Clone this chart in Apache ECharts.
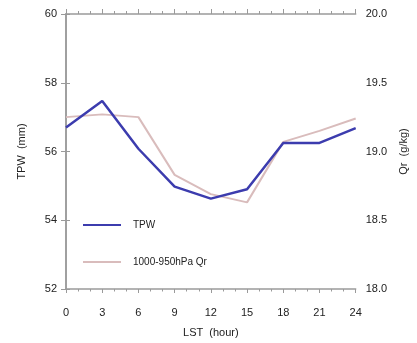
<!DOCTYPE html>
<html>
<head>
<meta charset="utf-8">
<script src="https://cdn.jsdelivr.net/npm/echarts@6/dist/echarts.min.js"></script>
<style>
  html, body { margin: 0; padding: 0; background: #ffffff; }
  #chart { width: 417px; height: 343px; }
</style>
</head>
<body>
<div id="chart"></div>
<script>
// Diurnal cycle: local solar time (hours)
const hours = [0, 3, 6, 9, 12, 15, 18, 21, 24];
// Total precipitable water (mm), left axis
const tpw = [56.70, 57.47, 56.08, 54.98, 54.63, 54.90, 56.25, 56.25, 56.68];
// 1000-950 hPa mixing ratio (g/kg), right axis
const qr = [19.25, 19.27, 19.25, 18.83, 18.69, 18.63, 19.07, 19.15, 19.24];

const FONT = 'Liberation Sans';
const AXIS_COLOR = '#9a9a9a';
const TEXT_COLOR = '#222';

const chart = echarts.init(document.getElementById('chart'), null, { renderer: 'canvas' });

chart.setOption({
  backgroundColor: '#ffffff',
  animation: false,
  textStyle: { fontFamily: FONT },
  grid: { left: 66, right: 56, top: 14, bottom: 53, containLabel: false },
  legend: {
    orient: 'vertical',
    left: 78,
    top: 215,
    itemGap: 27,
    itemWidth: 38,
    itemHeight: 2,
    icon: 'rect',
    textStyle: { fontFamily: FONT, fontSize: 10, color: TEXT_COLOR, padding: [0, 0, 0, 7] },
    data: ['TPW', '1000-950hPa Qr']
  },
  xAxis: [
    {
      type: 'value', position: 'bottom', min: 0, max: 24, interval: 3,
      name: 'LST  (hour)', nameLocation: 'middle', nameGap: 38,
      nameTextStyle: { fontFamily: FONT, fontSize: 11, color: TEXT_COLOR },
      axisLine: { show: true, lineStyle: { color: AXIS_COLOR, width: 1.5 } },
      axisTick: { show: true, inside: false, length: 4, lineStyle: { color: AXIS_COLOR } },
      minorTick: { show: true, splitNumber: 3, length: 2.5, lineStyle: { color: AXIS_COLOR } },
      axisLabel: { fontFamily: FONT, fontSize: 11, color: TEXT_COLOR, margin: 18 },
      splitLine: { show: false }
    },
    {
      type: 'value', position: 'top', min: 0, max: 24, interval: 3,
      axisLine: { show: true, lineStyle: { color: AXIS_COLOR, width: 1.5 } },
      axisTick: { show: true, inside: false, length: 5, lineStyle: { color: AXIS_COLOR } },
      minorTick: { show: true, splitNumber: 3, length: 3, lineStyle: { color: AXIS_COLOR } },
      axisLabel: { show: false },
      splitLine: { show: false }
    }
  ],
  yAxis: [
    {
      type: 'value', position: 'left', min: 52, max: 60, interval: 2,
      name: 'TPW  (mm)', nameLocation: 'middle', nameRotate: 90, nameGap: 39,
      nameTextStyle: { fontFamily: FONT, fontSize: 11, color: TEXT_COLOR },
      axisLine: { show: true, lineStyle: { color: AXIS_COLOR, width: 1.5 } },
      axisTick: { show: true, inside: false, length: 5, lineStyle: { color: AXIS_COLOR } },
      axisLabel: { fontFamily: FONT, fontSize: 11, color: TEXT_COLOR, margin: 9 },
      splitLine: { show: false }
    },
    {
      type: 'value', position: 'right', min: 18, max: 20, interval: 0.5,
      name: 'Qr  (g/kg)', nameLocation: 'middle', nameRotate: 90, nameGap: 40,
      nameTextStyle: { fontFamily: FONT, fontSize: 11, color: TEXT_COLOR },
      axisLine: { show: true, lineStyle: { color: AXIS_COLOR, width: 1.5 } },
      axisTick: { show: true, inside: false, length: 4, lineStyle: { color: AXIS_COLOR } },
      axisLabel: {
        fontFamily: FONT, fontSize: 11, color: TEXT_COLOR, margin: 10,
        formatter: v => v.toFixed(1)
      },
      splitLine: { show: false }
    }
  ],
  series: [
    {
      name: '1000-950hPa Qr', type: 'line', xAxisIndex: 0, yAxisIndex: 1,
      data: hours.map((h, i) => [h, qr[i]]),
      showSymbol: false, symbol: 'none',
      lineStyle: { color: '#d9bcbc', width: 2 },
      itemStyle: { color: '#d9bcbc' },
      z: 2
    },
    {
      name: 'TPW', type: 'line', xAxisIndex: 0, yAxisIndex: 0,
      data: hours.map((h, i) => [h, tpw[i]]),
      showSymbol: false, symbol: 'none',
      lineStyle: { color: '#3c3cae', width: 2.5 },
      itemStyle: { color: '#3c3cae' },
      z: 3
    }
  ]
});
</script>
</body>
</html>
